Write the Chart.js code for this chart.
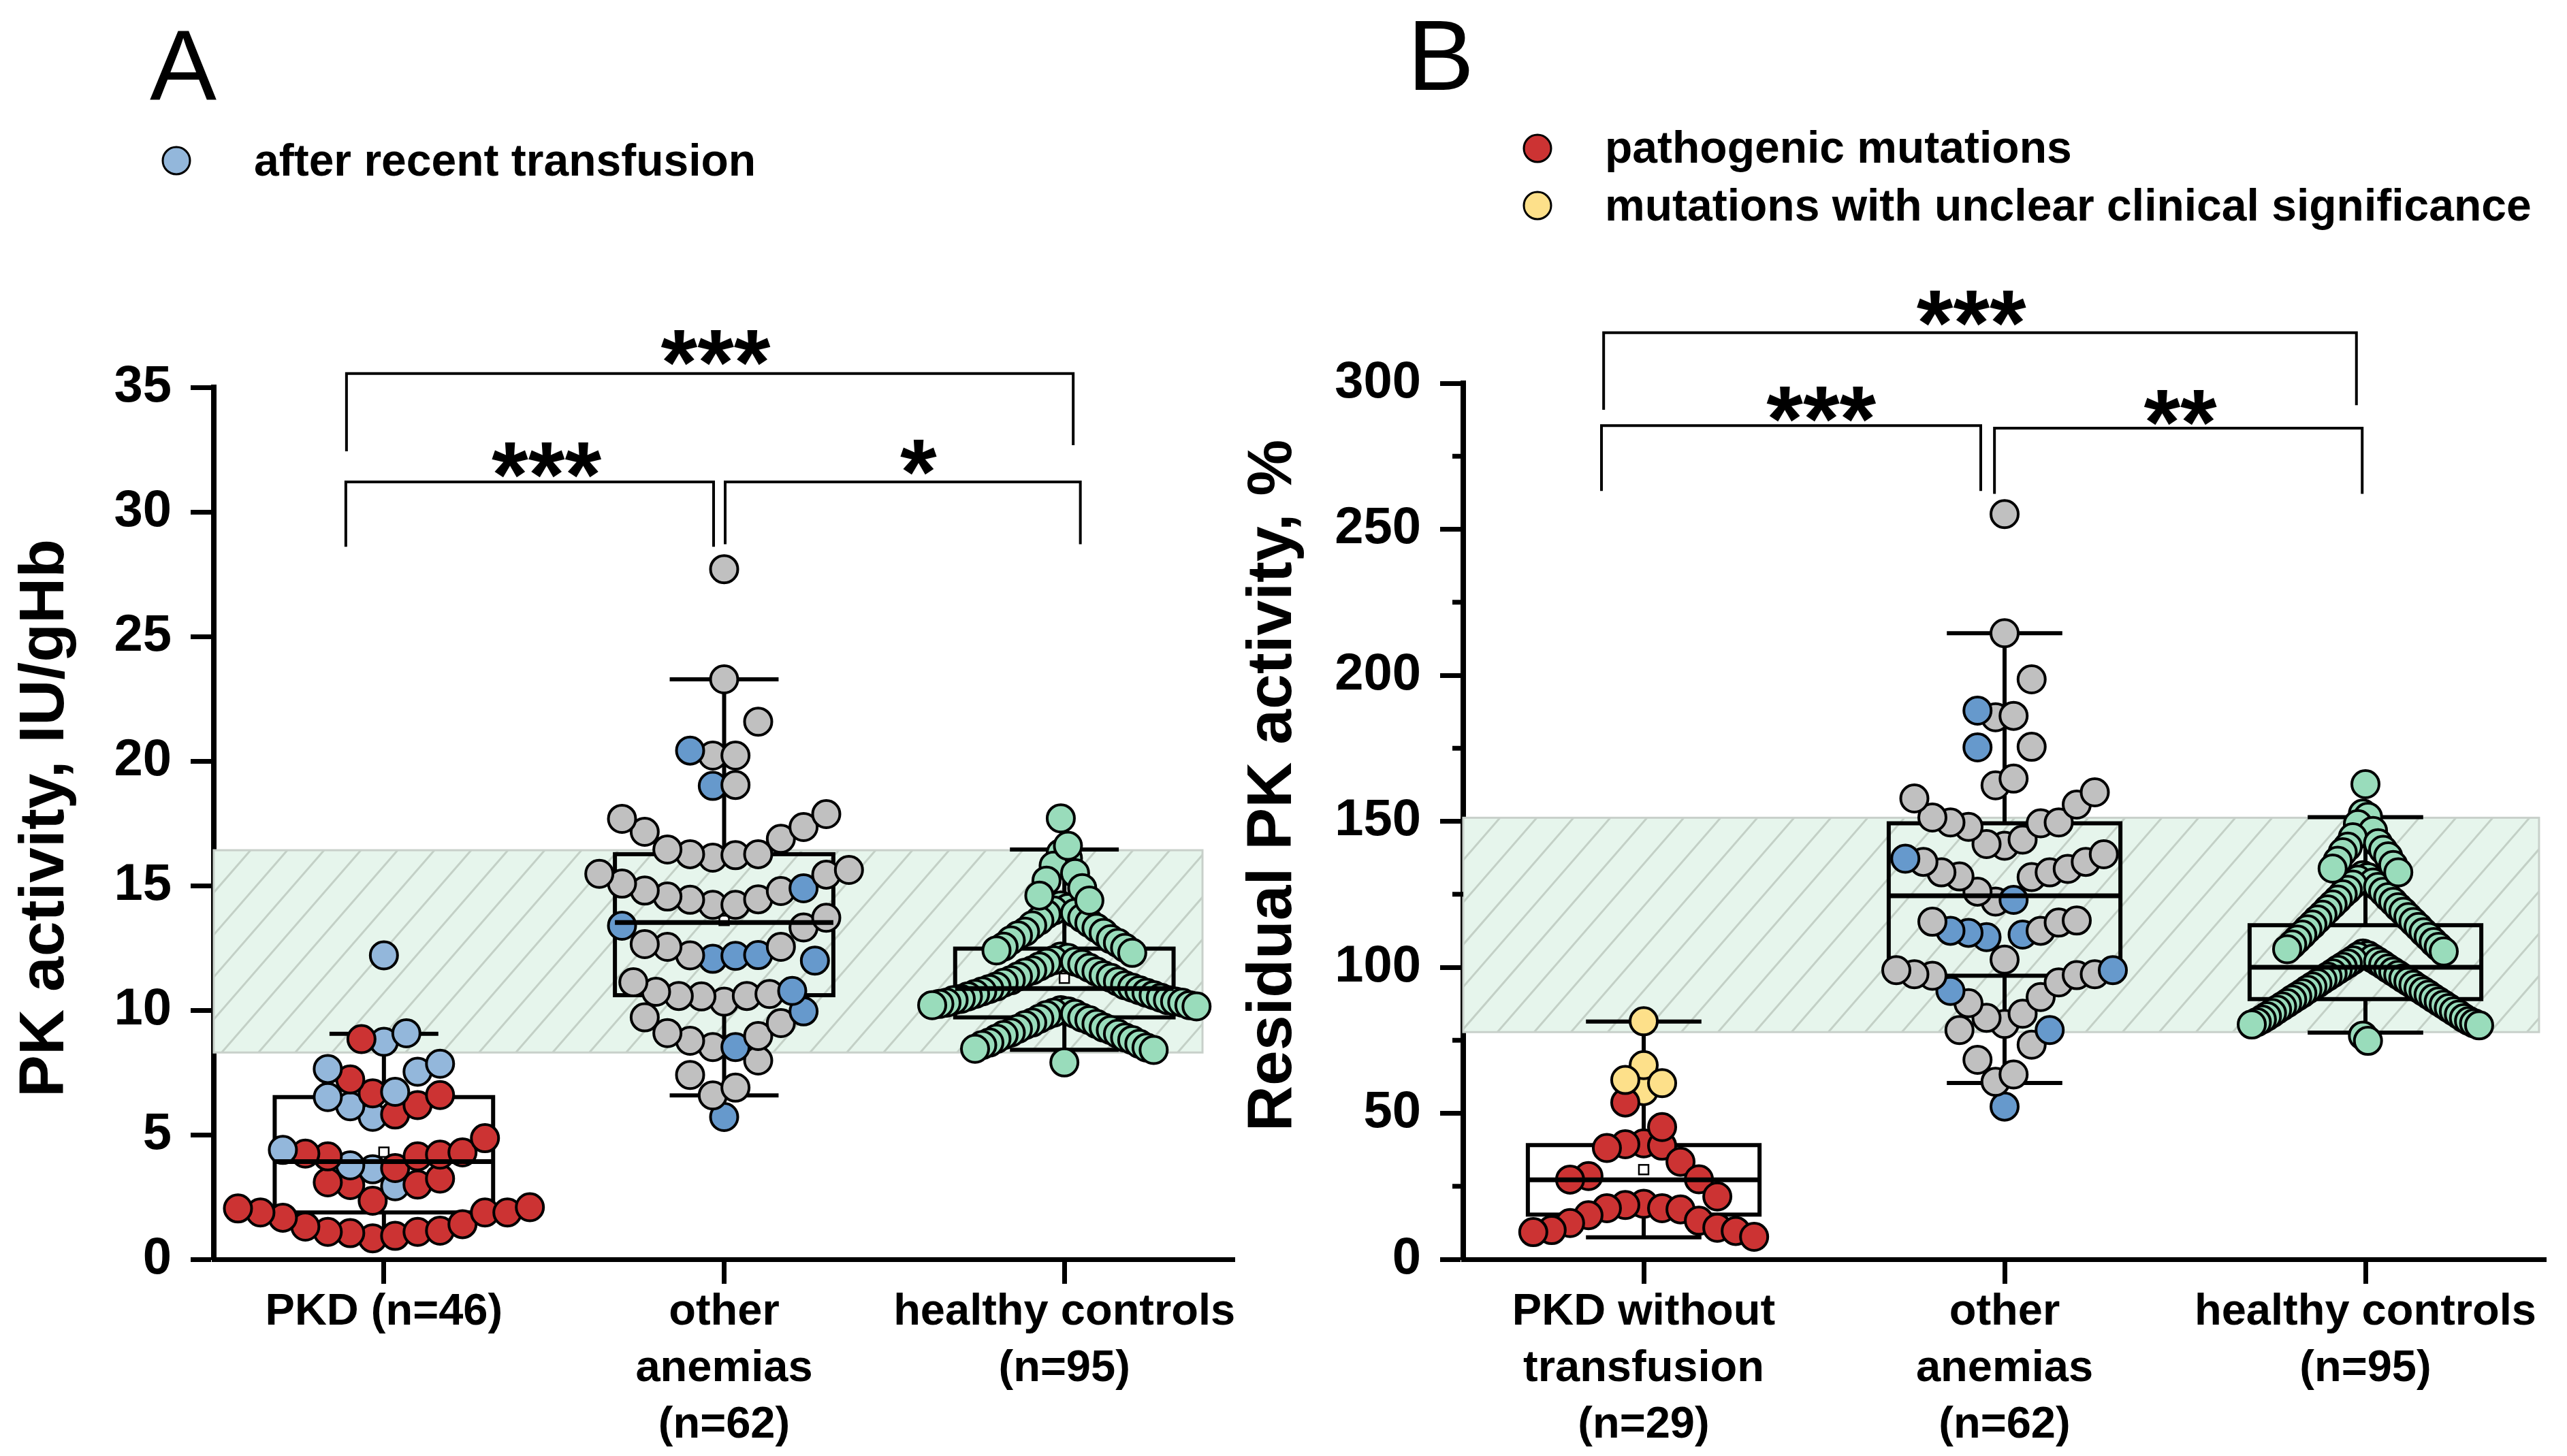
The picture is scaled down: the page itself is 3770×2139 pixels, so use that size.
<!DOCTYPE html>
<html>
<head>
<meta charset="utf-8">
<title>PK activity</title>
<script src="https://cdn.jsdelivr.net/npm/chart.js@4.4.1/dist/chart.umd.min.js"></script>
<style>
  html,body{margin:0;padding:0;background:#fff;}
  #stage{position:relative;width:3770px;height:2139px;background:#fff;}
  #stage canvas{position:absolute;left:0;top:0;}
</style>
</head>
<body>
<div id="stage">
  <canvas id="chart-a" width="3770" height="2139"></canvas>
  <canvas id="chart-b" width="3770" height="2139"></canvas>
</div>
<script>
/* ---------- Panel A: PK activity, IU/gHb ---------- */
const groupsA=[['PKD (n=46)'],['other','anemias','(n=62)'],['healthy controls','(n=95)']];
const pkdA=[8.84,7.22,6.66,6.59,5.81,6.19,4.86,4.2,4.29,4.13,4.24,4.13,3.66,3.24,3.09,2.98,3.0,2.35,2.04,2.09,1.88,1.88,1.67,1.88,1.41,1.15,1.05,1.10,1.31,1.10,0.94,0.84];
const pkdTransfusedA=[12.2,8.73,9.07,7.64,7.85,7.53,6.72,6.51,5.72,6.14,4.39,3.77,3.61,2.93];
const otherA=[27.7,23.28,21.58,20.22,20.22,19.04,17.87,17.35,16.88,16.26,16.22,16.12,16.26,16.45,17.16,17.68,15.63,15.44,14.78,14.43,14.23,14.23,14.45,14.56,14.8,15.08,15.47,13.71,13.32,12.54,12.2,12.54,12.65,11.12,10.74,10.57,10.55,10.34,10.57,10.65,9.48,8.96,8.52,8.77,9.08,9.71,7.98,7.4,6.89,6.58];
const otherBlueA=[20.42,19.0,14.89,12.21,12.18,12.06,11.99,13.39,10.77,9.95,8.52,5.71];
const healthyA=[17.7,16.6,
  16.3,16.1,15.8,15.5,15.2,14.9,14.6,14.4,
  14.2,14.1,14.0,13.9,13.85,13.7,13.6,13.5,13.4,13.3,13.15,13.1,13.0,12.85,12.8,12.7,12.55,12.5,12.4,12.3,
  12.15,12.1,12.0,11.95,11.9,11.85,11.75,11.7,11.6,11.55,11.5,11.4,11.35,11.3,11.2,11.15,11.1,11.0,10.95,10.9,
  10.85,10.8,10.75,10.7,10.65,10.6,10.55,10.5,10.45,10.4,10.4,10.35,10.3,10.3,10.25,10.2,10.2,10.15,
  10.0,9.95,9.9,9.85,9.8,9.7,9.65,9.6,9.5,9.45,9.4,9.3,9.25,9.2,9.1,9.05,9.0,8.9,8.85,8.8,8.7,8.65,8.6,8.5,8.45,8.4,
  7.9];
const whiskerLowA=[0.9,6.58,8.41];
const q1A=[1.88,10.6,9.71];
const medianA=[3.92,13.52,10.87];
const q3A=[6.51,16.26,12.47];
const whiskerHighA=[9.05,23.28,16.45];
const meanA=[4.3,13.6,11.28];
const refRangeA=[8.3,16.42];

/* ---------- Panel B: Residual PK activity, % ---------- */
const groupsB=[['PKD without','transfusion','(n=29)'],['other','anemias','(n=62)'],['healthy controls','(n=95)']];
const pkdB=[53.7,45.3,39.4,38.9,38.1,39.7,33.4,28.5,27.3,27.4,21.5,19.0,18.6,17.5,17.5,17.1,15.1,13.2,12.4,10.8,10.0,9.7,9.3,7.7];
const pkdUnclearB=[81.5,66.5,61.4,60.3,57.6];
const otherB=[255.2,214.4,198.6,186.1,185.6,175.5,164.6,162.3,157.8,151.3,149.6,148.1,142.2,141.6,143.7,149.3,149.6,155.7,159.9,138.7,136.1,133.7,132.5,130.9,122.5,125.9,131.1,132.5,136.1,115.6,102.6,112.5,115.3,116.0,99.0,97.6,97.1,87.7,82.7,80.6,84.1,89.8,94.8,97.3,97.6,78.5,73.5,68.3,63.3,60.8];
const otherBlueB=[187.9,175.3,123.1,137.2,112.5,111.8,110.3,111.2,91.9,99.0,78.5,52.3];
const healthyB=[162.7,
  152.6,151.5,149,146.7,144.5,142.5,141.3,140.2,139.4,138,136.5,135,133.8,132.5,
  131.5,130.8,130,129,128.3,127.5,126.5,125.8,125,124,123.2,122.4,121.5,120.6,119.8,119,118,117.2,116.4,115.5,114.6,113.8,113,112,111.2,110.4,109.5,108.6,107.8,107,106.2,105.4,
  104.7,104.1,103.6,103,102.4,101.9,101.3,100.8,100.2,99.6,99.1,98.5,97.9,97.4,96.8,96.2,95.7,95.1,94.5,94,
  93.4,92.8,92.3,91.7,91.1,90.6,90,89.4,88.9,88.3,87.7,87.2,86.6,86,85.5,84.9,84.3,83.8,83.2,82.6,
  82.1,81.6,81.2,80.8,80.4,80.1,
  76.6,74.8];
const whiskerLowB=[7.5,60.4,77.6];
const q1B=[15.3,97.1,89.1];
const medianB=[27.2,124.5,100];
const q3B=[39.1,149.3,114.4];
const whiskerHighB=[81.4,214.4,151.4];
const meanB=[30.7,125,105.8];
const refRangeB=[77.8,151.2];

/* ---------- significance brackets (data units) ---------- */
const bracketsA=[
  {from:0.89,to:3.026,y:35.55,dropL:32.43,dropR:32.68,label:'***',lx:1.975,ly:36.8},
  {from:0.888,to:1.969,y:31.2,dropL:28.6,dropR:28.6,label:'***',lx:1.478,ly:32.3},
  {from:2.003,to:3.047,y:31.2,dropL:28.7,dropR:28.7,label:'*',lx:2.571,ly:32.4}
];
const bracketsB=[
  {from:0.889,to:2.975,y:317.3,dropL:290.9,dropR:292.5,label:'***',lx:1.908,ly:327.6},
  {from:0.883,to:1.934,y:285.5,dropL:263.1,dropR:263.1,label:'***',lx:1.492,ly:294.7},
  {from:1.972,to:2.991,y:284.6,dropL:262.1,dropR:262.1,label:'**',lx:2.487,ly:293.5}
];

/* ---------- colours ---------- */
const C={red:'#cc3333',lightBlue:'#93b7db',blue:'#6699cc',grey:'#c0c0c0',green:'#99dcbb',yellow:'#fde08a'};
const FONT="'Liberation Sans', Arial, Helvetica, sans-serif";
Chart.defaults.font.family=FONT;
Chart.defaults.color='#000';

/* ---------- swarm layout: bin by value, spread each bin around the category ---------- */
function swarm(cat,parts,lay){
  const pts=[];
  parts.forEach(p=>p.values.forEach(v=>pts.push({y:v,c:p.color})));
  const bins=new Map();
  pts.forEach(p=>{
    const k=Math.floor((p.y-lay.origin)/lay.width+1e-9);
    if(!bins.has(k))bins.set(k,[]);
    bins.get(k).push(p);
  });
  const out=[];
  [...bins.keys()].sort((a,b)=>a-b).forEach(k=>{
    const list=bins.get(k).sort((a,b)=>lay.order==='up'?a.y-b.y:b.y-a.y);
    const n=list.length;
    const slots=list.map((_,i)=>i-(n-1)/2).sort((a,b)=>Math.abs(a)-Math.abs(b)||a-b);
    list.forEach((p,i)=>out.push({x:cat+slots[i]*lay.step,y:p.y,c:p.c}));
  });
  return {
    data:out.map(p=>({x:p.x,y:p.y})),
    pointBackgroundColor:out.map(p=>p.c),
    pointBorderColor:'#000',pointBorderWidth:4,
    pointRadius:20,pointHoverRadius:20,showLine:false
  };
}

/* ---------- drawing helpers ---------- */
function hatchBand(ctx,x0,x1,y0,y1){
  ctx.save();
  ctx.fillStyle='#e6f5ec';
  ctx.fillRect(x0,y0,x1-x0,y1-y0);
  ctx.beginPath();ctx.rect(x0,y0,x1-x0,y1-y0);ctx.clip();
  ctx.strokeStyle='#c3d0c6';ctx.lineWidth=3;
  const h=y1-y0,run=h/1.15;
  for(let sx=x0-run;sx<x1+20;sx+=54){
    ctx.beginPath();ctx.moveTo(sx,y1);ctx.lineTo(sx+run,y0);ctx.stroke();
  }
  ctx.restore();
  ctx.save();
  ctx.strokeStyle='#c8d0ca';ctx.lineWidth=3;
  ctx.strokeRect(x0,y0,x1-x0,y1-y0);
  ctx.restore();
}

const decor={
  id:'decor',
  beforeDatasetsDraw(chart,args,o){
    const {ctx,chartArea:a,scales:{x,y}}=chart;
    hatchBand(ctx,a.left,x.getPixelForValue(o.bandEnd),y.getPixelForValue(o.band[1]),y.getPixelForValue(o.band[0]));
    ctx.save();
    ctx.strokeStyle='#000';ctx.lineCap='butt';
    o.q1.forEach((_,i)=>{
      const c=i+1,cx=x.getPixelForValue(c);
      const bx0=x.getPixelForValue(c-0.321),bx1=x.getPixelForValue(c+0.321);
      const wx0=x.getPixelForValue(c-0.16),wx1=x.getPixelForValue(c+0.16);
      const yLo=y.getPixelForValue(o.lo[i]),yHi=y.getPixelForValue(o.hi[i]);
      const yQ1=y.getPixelForValue(o.q1[i]),yQ3=y.getPixelForValue(o.q3[i]);
      ctx.lineWidth=6;
      ctx.beginPath();
      ctx.moveTo(cx,yQ3);ctx.lineTo(cx,yHi);
      ctx.moveTo(cx,yQ1);ctx.lineTo(cx,yLo);
      ctx.moveTo(wx0,yHi);ctx.lineTo(wx1,yHi);
      ctx.moveTo(wx0,yLo);ctx.lineTo(wx1,yLo);
      ctx.stroke();
      ctx.strokeRect(bx0,yQ3,bx1-bx0,yQ1-yQ3);
      const ym=y.getPixelForValue(o.mean[i]);
      ctx.fillStyle='#fff';ctx.lineWidth=2.5;
      ctx.fillRect(cx-7,ym-7,14,14);ctx.strokeRect(cx-7,ym-7,14,14);
    });
    ctx.restore();
  },
  afterDatasetsDraw(chart,args,o){
    const {ctx,scales:{x,y}}=chart;
    ctx.save();
    ctx.strokeStyle='#000';ctx.lineWidth=7;
    o.median.forEach((m,i)=>{
      const c=i+1,ym=y.getPixelForValue(m);
      ctx.beginPath();
      ctx.moveTo(x.getPixelForValue(c-0.321),ym);
      ctx.lineTo(x.getPixelForValue(c+0.321),ym);
      ctx.stroke();
    });
    ctx.restore();
  },
  afterDraw(chart,args,o){
    const {ctx,chartArea:a,scales:{x,y}}=chart;
    ctx.save();
    // minor ticks
    if(o.minorStep){
      ctx.strokeStyle='#000';ctx.lineWidth=7;
      for(let v=o.minorStep;v<y.max;v+=2*o.minorStep){
        const py=y.getPixelForValue(v);
        ctx.beginPath();ctx.moveTo(a.left-16,py);ctx.lineTo(a.left,py);ctx.stroke();
      }
    }
    // brackets + stars
    ctx.strokeStyle='#000';ctx.lineWidth=4;ctx.lineJoin='miter';
    o.brackets.forEach(b=>{
      const xl=x.getPixelForValue(b.from),xr=x.getPixelForValue(b.to);
      ctx.beginPath();
      ctx.moveTo(xl,y.getPixelForValue(b.dropL));
      ctx.lineTo(xl,y.getPixelForValue(b.y));
      ctx.lineTo(xr,y.getPixelForValue(b.y));
      ctx.lineTo(xr,y.getPixelForValue(b.dropR));
      ctx.stroke();
      ctx.font=`bold 138px ${FONT}`;ctx.fillStyle='#000';
      ctx.textAlign='center';ctx.textBaseline='alphabetic';
      ctx.fillText(b.label,x.getPixelForValue(b.lx),y.getPixelForValue(b.ly)+77);
    });
    // y axis title
    ctx.save();
    ctx.translate(o.yTitle.x,o.yTitle.y);ctx.rotate(-Math.PI/2);
    ctx.font=`bold 93px ${FONT}`;ctx.textAlign='center';ctx.textBaseline='middle';
    ctx.fillText(o.yTitle.text,0,0);
    ctx.restore();
    // panel letter
    ctx.font=`147px ${FONT}`;ctx.textAlign='left';ctx.textBaseline='alphabetic';
    ctx.fillText(o.letter.text,o.letter.x,o.letter.y);
    // legend
    o.legend.forEach(it=>{
      ctx.beginPath();ctx.arc(it.cx,it.cy,20,0,Math.PI*2);
      ctx.fillStyle=it.color;ctx.fill();
      ctx.lineWidth=3;ctx.strokeStyle='#000';ctx.stroke();
      ctx.fillStyle='#000';ctx.font=`bold 66px ${FONT}`;
      ctx.textAlign='left';ctx.textBaseline='alphabetic';
      ctx.fillText(it.text,it.tx,it.ty);
    });
    ctx.restore();
  }
};

function axes(groups,yMax,yStep,yWidth){
  return {
    x:{type:'linear',min:0.5,max:3.5,
      afterBuildTicks:s=>{s.ticks=groups.map((_,i)=>({value:i+1}));},
      afterFit:s=>{s.height=289;},
      ticks:{callback:v=>groups[Math.round(v)-1],font:{size:65,weight:'bold',lineHeight:1.28},padding:0,color:'#000',maxRotation:0,minRotation:0,autoSkip:false},
      grid:{drawOnChartArea:false,drawTicks:true,tickLength:36,tickWidth:7,tickColor:'#000'},
      border:{display:true,width:7,color:'#000'}},
    y:{type:'linear',min:0,max:yMax,
      afterFit:s=>{s.width=yWidth;},
      ticks:{stepSize:yStep,font:{size:76,weight:'bold'},padding:28,color:'#000'},
      grid:{drawOnChartArea:false,drawTicks:true,tickLength:34,tickWidth:7,tickColor:'#000'},
      border:{display:true,width:8,color:'#000'}}
  };
}

/* ---------- chart A ---------- */
new Chart(document.getElementById('chart-a'),{
  type:'scatter',
  data:{datasets:[
    swarm(1,[{values:pkdA,color:C.red},{values:pkdTransfusedA,color:C.lightBlue}],{origin:0.6,width:1.5,step:0.066,order:'up'}),
    swarm(2,[{values:otherA,color:C.grey},{values:otherBlueA,color:C.blue}],{origin:0,width:2,step:0.0667,order:'up'}),
    swarm(3,[{values:healthyA,color:C.green}],{origin:-0.4,width:2.1,step:0.021,order:'down'})
  ]},
  options:{
    responsive:false,animation:false,devicePixelRatio:1,
    layout:{padding:{left:0,top:569,right:1957,bottom:0}},
    plugins:{legend:{display:false},tooltip:{enabled:false},
      decor:{band:refRangeA,bandEnd:3.406,lo:whiskerLowA,q1:q1A,median:medianA,q3:q3A,hi:whiskerHighA,mean:meanA,
        brackets:bracketsA,minorStep:0,
        yTitle:{text:'PK activity, IU/gHb',x:67,y:1202},
        letter:{text:'A',x:220,y:147},
        legend:[{color:C.lightBlue,text:'after recent transfusion',cx:259,cy:236,tx:373,ty:258}]}},
    scales:axes(groupsA,35,5,314)
  },
  plugins:[decor]
});

/* ---------- chart B ---------- */
new Chart(document.getElementById('chart-b'),{
  type:'scatter',
  data:{datasets:[
    swarm(1,[{values:pkdB,color:C.red},{values:pkdUnclearB,color:C.yellow}],{origin:0,width:20,step:0.051,order:'down'}),
    swarm(2,[{values:otherB,color:C.grey},{values:otherBlueB,color:C.blue}],{origin:0,width:20,step:0.05,order:'up'}),
    swarm(3,[{values:healthyB,color:C.green}],{origin:24,width:27,step:0.014,order:'down'})
  ]},
  options:{
    responsive:false,animation:false,devicePixelRatio:1,
    layout:{padding:{left:0,top:563,right:31,bottom:0}},
    plugins:{legend:{display:false},tooltip:{enabled:false},
      decor:{band:refRangeB,bandEnd:3.481,lo:whiskerLowB,q1:q1B,median:medianB,q3:q3B,hi:whiskerHighB,mean:meanB,
        brackets:bracketsB,minorStep:25,
        yTitle:{text:'Residual PK activity, %',x:1870,y:1154},
        letter:{text:'B',x:2067,y:132},
        legend:[
          {color:C.red,text:'pathogenic mutations',cx:2258,cy:218,tx:2357,ty:239},
          {color:C.yellow,text:'mutations with unclear clinical significance',cx:2258,cy:302,tx:2357,ty:324}
        ]}},
    scales:axes(groupsB,300,50,2149)
  },
  plugins:[decor]
});
</script>
</body>
</html>
